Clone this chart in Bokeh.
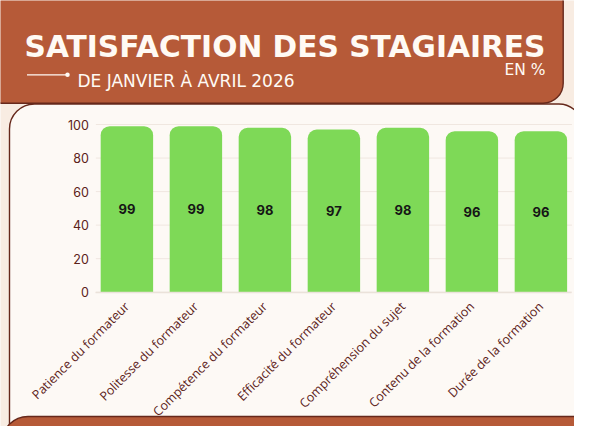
import math
from bokeh.plotting import figure
from bokeh.models import Range1d, LinearAxis, FixedTicker
from bokeh.core.properties import value
from bokeh.embed import file_html
from bokeh.resources import INLINE

# ---------------- data ----------------
categories = [
    "Patience du formateur",
    "Politesse du formateur",
    "Compétence du formateur",
    "Efficacité du formateur",
    "Compréhension du sujet",
    "Contenu de la formation",
    "Durée de la formation",
]
satisfaction = [99, 99, 98, 97, 98, 96, 96]
y_ticks = [0, 20, 40, 60, 80, 100]

title_text = "SATISFACTION DES STAGIAIRES"
subtitle_text = "DE JANVIER À AVRIL 2026"
unit_text = "EN %"

# ---------------- layout constants (reference pixels) ----------------
W, H = 574, 426
REF_H = 442
CAT_PX = 69.0                # pixels per category
X0_PX = 126.4                # centre of first category
Y0_PX = 291.7                # pixel row of value 0
PPU = (291.7 - 124.0) / 100  # pixels per value unit

RUST = "#b65a38"
DARK = "#66281b"
BEIGE = "#f8ece2"
PANEL = "#fdf9f5"
GREEN = "#7ed957"
LABEL = "#5c2219"
GRID = "#f0e7e0"
HEAD_TXT = "#fffaf4"

n = len(categories)
idx = list(range(n))

x_start = (0 - X0_PX) / CAT_PX
x_end = (W - X0_PX) / CAT_PX
y_end = Y0_PX / PPU
y_start = (Y0_PX - H) / PPU

p = figure(width=W, height=H, x_range=Range1d(x_start, x_end),
           y_range=Range1d(y_start, y_end), min_border=0,
           toolbar_location=None, output_backend="svg",
           x_axis_location=None, y_axis_location=None)
p.background_fill_color = BEIGE
p.border_fill_color = BEIGE
p.outline_line_color = None
p.xgrid.visible = False
p.ygrid.visible = False

# pixel ranges for decoration (y measured from top of the image)
p.extra_x_ranges = {"px": Range1d(0, W)}
p.extra_y_ranges = {"py": Range1d(REF_H - H, REF_H)}


def Y(r):
    return REF_H - r


# panel
p.quad(left=9, right=582.3, top=Y(103.5), bottom=Y(470),
       fill_color=PANEL, line_color=DARK, line_width=1.4,
       border_radius=(25, 24, 0, 0), x_range_name="px", y_range_name="py")
# header
p.quad(left=-30, right=562.7, top=Y(-30), bottom=Y(102.7),
       fill_color=RUST, line_color=DARK, line_width=1.4,
       border_radius=(0, 0, 20, 0), x_range_name="px", y_range_name="py")
# bottom band
p.quad(left=1.5, right=620, top=Y(416), bottom=Y(480),
       fill_color=RUST, line_color=DARK, line_width=1.4,
       border_radius=(26, 0, 0, 0), x_range_name="px", y_range_name="py")

# header texts
p.text(x=[24], y=[Y(45.7)], text=[title_text], text_color=HEAD_TXT,
       text_font=value("DejaVu Sans"), text_font_style="bold",
       text_font_size=value("29.7px"), text_baseline="alphabetic",
       x_range_name="px", y_range_name="py")
p.segment(x0=[26.5], x1=[67], y0=[Y(74.3)], y1=[Y(74.3)], line_color=HEAD_TXT,
          line_width=1.3, x_range_name="px", y_range_name="py")
p.scatter(x=[67], y=[Y(74.3)], size=4.5, fill_color=HEAD_TXT, line_color=None,
          x_range_name="px", y_range_name="py")
p.text(x=[77], y=[Y(80.7)], text=[subtitle_text], text_color=HEAD_TXT,
       text_font=value("DejaVu Sans"), text_font_size=value("17px"),
       text_baseline="alphabetic", x_range_name="px", y_range_name="py")
p.text(x=[545], y=[Y(69.3)], text=[unit_text], text_color=HEAD_TXT,
       text_font=value("DejaVu Sans"), text_font_size=value("15.5px"),
       text_align="right", text_baseline="alphabetic",
       x_range_name="px", y_range_name="py")

# grid lines
gx0 = -0.45
gx1 = n - 1 + 0.45
p.segment(x0=[gx0] * len(y_ticks), x1=[gx1] * len(y_ticks), y0=y_ticks,
          y1=y_ticks, line_color=GRID, line_width=1)

# bars
p.vbar(x=idx, top=satisfaction, bottom=0, width=0.76, fill_color=GREEN,
       line_color=None, border_radius=(9, 9, 0, 0))
p.text(x=idx, y=[v / 2 for v in satisfaction], text=[str(v) for v in satisfaction],
       text_align="center", text_baseline="middle", text_color="#161616",
       text_font=value("Inter"), text_font_style="bold",
       text_font_size=value("13px"))

# axes
yaxis = LinearAxis(fixed_location=gx0, ticker=FixedTicker(ticks=y_ticks),
                   bounds=(0, 100))
yaxis.axis_line_color = None
yaxis.major_tick_line_color = None
yaxis.minor_tick_line_color = None
yaxis.major_label_standoff = 1
yaxis.major_label_text_font = "Inter"
yaxis.major_label_text_font_size = "12.5px"
yaxis.major_label_text_color = LABEL
p.add_layout(yaxis, "left")

xaxis = LinearAxis(fixed_location=0, ticker=FixedTicker(ticks=idx),
                   bounds=(gx0, gx1),
                   major_label_overrides={i: c for i, c in enumerate(categories)})
xaxis.axis_line_color = "#ebe2da"
xaxis.axis_line_width = 1.5
xaxis.major_tick_line_color = None
xaxis.minor_tick_line_color = None
xaxis.major_label_orientation = math.pi / 4
xaxis.major_label_standoff = 6
xaxis.major_label_text_font = "Open Sans"
xaxis.major_label_text_font_size = "12.5px"
xaxis.major_label_text_color = LABEL
p.add_layout(xaxis, "below")

open("out.html", "w").write(file_html(p, INLINE))
